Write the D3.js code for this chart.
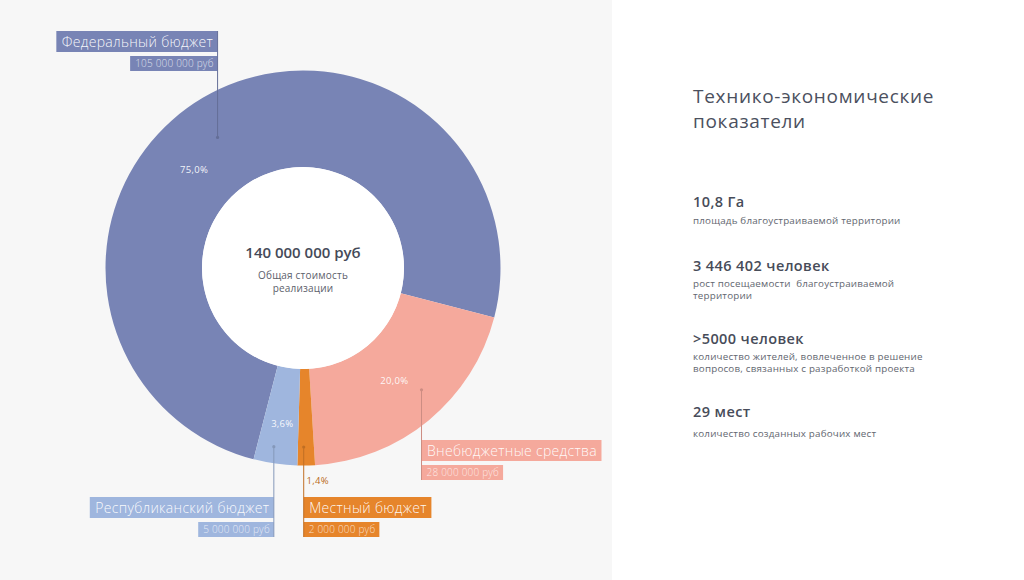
<!DOCTYPE html>
<html>
<head>
<meta charset="utf-8">
<script src="https://cdn.jsdelivr.net/npm/d3@7"></script>
<style>
  html, body { margin: 0; padding: 0; background: #fff; }
  svg { display: block; font-family: "Open Sans", "Noto Sans", sans-serif; }
  svg text { white-space: pre; }
</style>
</head>
<body>
<div id="chart"></div>
<script>
// данные
const names = ["Федеральный бюджет", "Внебюджетные средства", "Местный бюджет", "Республиканский бюджет"];
const values = [105000000, 28000000, 2000000, 5000000];
const percents = ["75,0%", "20,0%", "1,4%", "3,6%"];
const valueLabels = ["105 000 000 руб", "28 000 000 руб", "2 000 000 руб", "5 000 000 руб"];
const colors = ["#7884b5", "#f5a99c", "#e6852b", "#9fb6de"];

const totalLabel = "140 000 000 руб";
const totalCaption = ["Общая стоимость", "реализации"];

const panelTitle = ["Технико-экономические", "показатели"];
const indicators = ["10,8 Га", "3 446 402 человек", ">5000 человек", "29 мест"];
const indicatorNotes = [
    ["площадь благоустраиваемой территории"],
    ["рост посещаемости  благоустраиваемой", "территории"],
    ["количество жителей, вовлеченное в решение", "вопросов, связанных с разработкой проекта"],
    ["количество созданных рабочих мест"]
];

// раскладка подписей (углы в градусах относительно середины сектора)
const layout = [
    { anchorShift: -2.7, anchorR: 156, side: "left",  dir: "up",   boxTop: 31,  pctShift: -17.3, pctR: 147, inside: true },
    { anchorShift: -4.7, anchorR: 170, side: "right", dir: "down", boxTop: 440, pctShift: 0.5,   pctR: 145, inside: true },
    { anchorShift: 0.7,  anchorR: 179, side: "right", dir: "down", boxTop: 497, pctShift: -3,    pctR: 213, inside: false },
    { anchorShift: 1.2,  anchorR: 181, side: "left",  dir: "down", boxTop: 497, pctShift: -0.5,  pctR: 157, inside: true }
];
const indicatorBaselines = [206.5, 270.5, 343.5, 416.5];

const width = 1024, height = 580;
const cx = 303, cy = 268;
const outerR = 197.5, innerR = 101;
const startDeg = 194.5;

const svg = d3.select("#chart")
    .append("svg")
    .attr("width", width)
    .attr("height", height);

svg.append("rect").attr("width", 612).attr("height", height).attr("fill", "#f7f7f7");
svg.append("rect").attr("x", 612).attr("width", width - 612).attr("height", height).attr("fill", "#ffffff");

const rad = d => d * Math.PI / 180;

const pie = d3.pie()
    .sort(null)
    .value(d => d.value)
    .startAngle(rad(startDeg))
    .endAngle(rad(startDeg) + 2 * Math.PI);

const data = names.map((n, i) => ({
    name: n, value: values[i], pct: percents[i], label: valueLabels[i], color: colors[i], lay: layout[i]
}));

const arcs = pie(data);
const arc = d3.arc().innerRadius(innerR).outerRadius(outerR);

const g = svg.append("g").attr("transform", `translate(${cx},${cy})`);

g.selectAll("path.slice")
    .data(arcs)
    .enter()
    .append("path")
    .attr("class", "slice")
    .attr("d", arc)
    .attr("fill", d => d.data.color);

g.append("circle").attr("r", innerR).attr("fill", "#ffffff");

const polar = (angle, r) => [r * Math.sin(angle), -r * Math.cos(angle)];

// проценты
g.selectAll("text.pct")
    .data(arcs)
    .enter()
    .append("text")
    .attr("class", "pct")
    .attr("transform", d => {
        const a = (d.startAngle + d.endAngle) / 2 + rad(d.data.lay.pctShift);
        const p = polar(a, d.data.lay.pctR);
        return `translate(${p[0]},${p[1]})`;
    })
    .attr("text-anchor", "middle")
    .attr("dominant-baseline", "central")
    .attr("font-size", 9.5)
    .attr("letter-spacing", 0.3)
    .attr("fill", d => d.data.lay.inside ? "rgba(255,255,255,0.92)" : d3.color(d.data.color).darker(0.6))
    .text(d => d.data.pct);

// выноски
arcs.forEach(d => {
    const lay = d.data.lay;
    const a = (d.startAngle + d.endAngle) / 2 + rad(lay.anchorShift);
    const p = polar(a, lay.anchorR);
    const ax = cx + p[0], ay = cy + p[1];
    const lineColor = d3.color(d.data.color).darker(0.5);

    const grp = svg.append("g");

    const boxH = 21, valH = 15, gap = 4;
    const valTop = lay.boxTop + boxH + gap;

    const line = grp.append("line")
        .attr("x1", ax).attr("x2", ax)
        .attr("y1", ay)
        .attr("y2", lay.dir === "up" ? lay.boxTop : valTop + valH)
        .attr("stroke", lineColor)
        .attr("stroke-width", 1);

    grp.append("circle").attr("cx", ax).attr("cy", ay).attr("r", 1.6).attr("fill", lineColor);

    const nameBox = grp.append("rect").attr("fill", d.data.color);
    const nameText = grp.append("text")
        .attr("font-size", 14)
        .attr("font-weight", 300)
        .attr("letter-spacing", 0.3)
        .attr("fill", "rgba(255,255,255,0.95)")
        .attr("y", lay.boxTop + 15.5)
        .text(d.data.name);
    const nw = nameText.node().getComputedTextLength() + 10;

    const valBox = grp.append("rect").attr("fill", d.data.color);
    const valText = grp.append("text")
        .attr("font-size", 10)
        .attr("font-weight", 300)
        .attr("letter-spacing", 0.2)
        .attr("fill", "rgba(255,255,255,0.75)")
        .attr("y", valTop + 11)
        .text(d.data.label);
    const vw = valText.node().getComputedTextLength() + 9;

    const nx = lay.side === "left" ? ax - nw : ax;
    const vx = lay.side === "left" ? ax - vw : ax;

    nameBox.attr("x", nx).attr("y", lay.boxTop).attr("width", nw).attr("height", boxH);
    nameText.attr("x", nx + 5.5);
    valBox.attr("x", vx).attr("y", valTop).attr("width", vw).attr("height", valH);
    valText.attr("x", vx + 5);

    line.raise();
});

// центр
g.append("text")
    .attr("text-anchor", "middle")
    .attr("y", -10.5)
    .attr("font-size", 15)
    .attr("font-weight", 600)
    .attr("fill", "#454a58")
    .text(totalLabel);

g.selectAll("text.caption")
    .data(totalCaption)
    .enter()
    .append("text")
    .attr("class", "caption")
    .attr("text-anchor", "middle")
    .attr("y", (d, i) => 10.5 + i * 13.3)
    .attr("font-size", 10)
    .attr("letter-spacing", 0.2)
    .attr("fill", "#5c606b")
    .text(d => d);

// правая панель
const panel = svg.append("g").attr("transform", "translate(693,0)");

panel.selectAll("text.title")
    .data(panelTitle)
    .enter()
    .append("text")
    .attr("class", "title")
    .attr("y", (d, i) => 103 + i * 24.5)
    .attr("font-size", 19)
    .attr("letter-spacing", 0.7)
    .attr("fill", "#4b505e")
    .text(d => d);

indicators.forEach((t, i) => {
    const y = indicatorBaselines[i];
    panel.append("text")
        .attr("y", y)
        .attr("font-size", 14.5)
        .attr("font-weight", 600)
        .attr("letter-spacing", 0.4)
        .attr("fill", "#474c59")
        .text(t);
    const notes = indicatorNotes[i];
    const first = notes.length > 1 ? y + 16.3 : y + 17.5 + (i === 3 ? 2.5 : 0);
    notes.forEach((n, j) => {
        panel.append("text")
            .attr("y", first + j * 11.7)
            .attr("font-size", 9.8)
            .attr("letter-spacing", 0.2)
            .attr("fill", "#62666f")
            .text(n);
    });
});
</script>
</body>
</html>
